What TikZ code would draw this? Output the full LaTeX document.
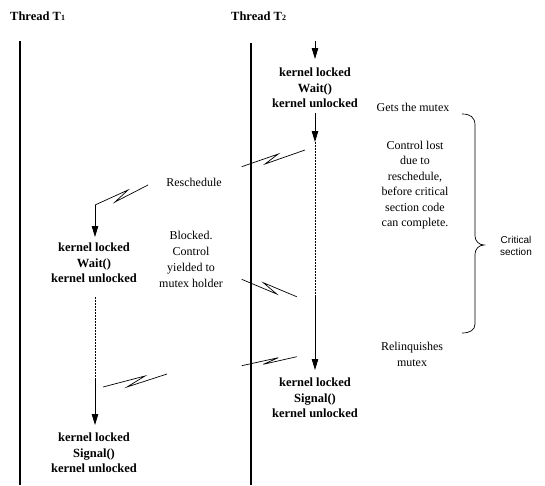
\documentclass[tikz,border=0pt]{standalone}
\usepackage{fontspec}
\setmainfont{Liberation Serif}
\newfontfamily\critfont{Liberation Sans}
\usetikzlibrary{arrows.meta}
\begin{document}
\begin{tikzpicture}[x=1pt,y=-1pt,
  thread/.style={line width=2pt},
  flow/.style={line width=0.9pt,-{Triangle[length=11pt,width=6.5pt]}},
  idle/.style={line width=0.8pt,dash pattern=on 1.5pt off 1.5pt},
  bolt/.style={line width=0.7pt},
  kern/.style={align=center,font=\fontsize{12.5}{15.5}\selectfont\bfseries,inner sep=0pt},
  note/.style={align=center,font=\fontsize{12}{16}\selectfont,inner sep=0pt},
  hdr/.style={anchor=base west,font=\fontsize{12.5}{15}\selectfont\bfseries,inner sep=0pt}]
\useasboundingbox (0,0) rectangle (545,485);
% headers
\node[hdr] (h1) at (10,20) {Thread T{\fontsize{8}{8}\selectfont 1}};
\node[hdr] (h2) at (231,20) {Thread T{\fontsize{8}{8}\selectfont 2}};
% thread lines
\coordinate (t1top) at (20,41);
\coordinate (t1bot) at (20,485);
\coordinate (t2top) at (251,43);
\coordinate (t2bot) at (251,485);
\draw[thread] (t1top) -- (t1bot);
\draw[thread] (t2top) -- (t2bot);
% thread 2 flow
\coordinate (a0s) at (315,41);
\coordinate (a0e) at (315,59);
\draw[flow] (a0s) -- (a0e);
\node[kern] (k2a) at (315,88) {kernel locked\\Wait()\\kernel unlocked};
\coordinate (a1s) at (315,113);
\coordinate (a1e) at (315,142);
\coordinate (d2e) at (315,295);
\coordinate (a2e) at (315,370);
\draw[flow] (a1s) -- (a1e);
\draw[idle] (a1e) -- (d2e);
\draw[flow] (d2e) -- (a2e);
\node[kern] (k2b) at (315,398) {kernel locked\\Signal()\\kernel unlocked};
% thread 1 flow
\coordinate (b2s) at (148,185);
\coordinate (b2e) at (95,205);
\coordinate (a3e) at (95,237);
\draw[bolt] (b2s) -- (115,202) -- (128,190) -- (b2e);
\draw[flow] (b2e) -- (a3e);
\node[kern] (k1a) at (94,263) {kernel locked\\Wait()\\kernel unlocked};
\coordinate (d1s) at (95,297);
\coordinate (d1e) at (95,378);
\coordinate (a4e) at (95,425);
\draw[idle] (d1s) -- (d1e);
\draw[flow] (d1e) -- (a4e);
\node[kern] (k1b) at (94,453) {kernel locked\\Signal()\\kernel unlocked};
% lightning bolts
\draw[bolt] (241.7,166.7) -- (278.3,154) -- (265,164) -- (305,150);
\draw[bolt] (241.7,279.3) -- (276.7,294) -- (263.3,282.7) -- (296.7,296.7);
\draw[bolt] (241.7,365.7) -- (278.3,357.7) -- (263.3,364.3) -- (296.7,356.7);
\draw[bolt] (103,387) -- (145,376) -- (127,387) -- (167,374);
% notes
\node[note] (gets) at (413,107) {Gets the mutex};
\node[note,font=\fontsize{12}{15.5}\selectfont] (lost) at (415,185) {Control lost\\due to\\reschedule,\\before critical\\section code\\can complete.};
\node[note] (rel) at (412,354.5) {Relinquishes\\mutex};
\node[note] (resch) at (194,182) {Reschedule};
\node[note] (blk) at (191,259) {Blocked.\\Control\\yielded to\\mutex holder};
% brace
\draw[bolt] (462,114) .. controls (470,114) and (475,117) .. (475,125) -- (475,236)
  .. controls (475,241) and (479,245) .. (484,245)
  .. controls (479,245) and (475,249) .. (475,254) -- (475,324)
  .. controls (475,330) and (470,333) .. (462,333);
\node[align=center,font=\critfont\fontsize{10}{12}\selectfont,inner sep=0pt] (crit) at (516,246) {Critical\\section};
\end{tikzpicture}
\end{document}
